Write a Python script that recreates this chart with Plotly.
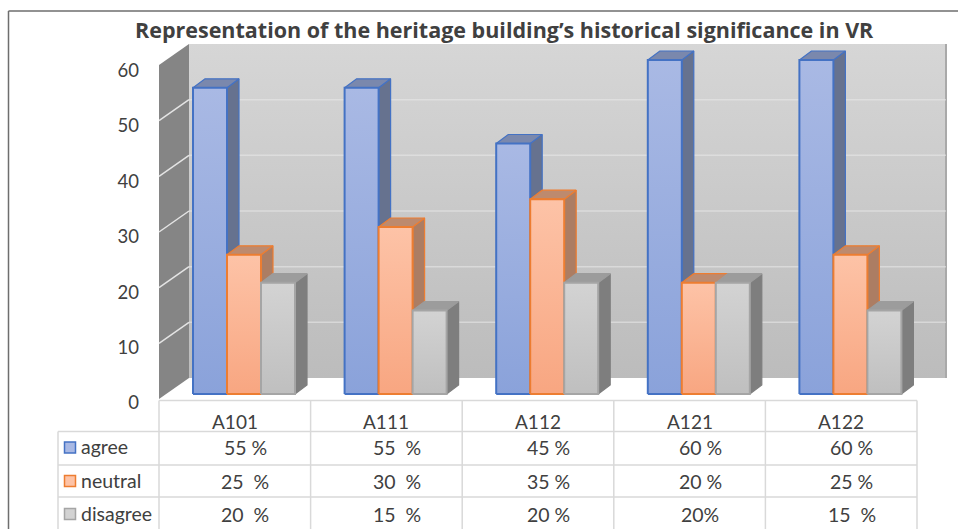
import plotly.graph_objects as go

# ---- data ----
categories = ["A101", "A111", "A112", "A121", "A122"]
series_names = ["agree", "neutral", "disagree"]
agree = [55, 55, 45, 60, 60]
neutral = [25, 30, 35, 20, 25]
disagree = [20, 15, 20, 20, 15]
agree_labels = ["55 %", "55\u00a0\u00a0%", "45 %", "60 %", "60 %"]
neutral_labels = ["25\u00a0\u00a0%", "30\u00a0\u00a0%", "35 %", "20 %", "25 %"]
disagree_labels = ["20\u00a0\u00a0%", "15\u00a0\u00a0%", "20 %", "20%", "15\u00a0\u00a0%"]
y_ticks = [0, 10, 20, 30, 40, 50, 60]
title = "Representation of the heritage building\u2019s historical significance in VR"

# ---- layout constants ----
W, H = 958, 529
CELL = 151.6          # px per category
X0 = 159              # px of first category edge
UNIT = 5.567          # px per value unit
BAR_BASE = 394        # px of value 0 for bar fronts
TICK_BASE = 399       # px of value 0 on the front of the side wall
BACK_BASE = 378       # px of value 0 on the back wall
RIGHT_WALL = 946
FONT = "Lato"
TXT = "#404040"
BAR_W = 34 / CELL
GROUP_OFF = 34 / CELL
DX = 12 / CELL        # bar depth
DY = 9 / UNIT
WALL_DX = 30 / CELL

styles = {
    "agree": dict(top="#a9b9e4", bot="#8aa2da", line="#4472c4", side="#66728f", cap="#7a88ad"),
    "neutral": dict(top="#fdc3a7", bot="#f8a681", line="#ed7d31", side="#ac7d63", cap="#bd8a6e"),
    "disagree": dict(top="#d3d3d3", bot="#bfbfbf", line="#a5a5a5", side="#7e7e7e", cap="#9c9c9c"),
}

xr = [(0 - X0) / CELL, (W - X0) / CELL]
yr = [(BAR_BASE - H) / UNIT, BAR_BASE / UNIT]


def vx(p):
    return (p - X0) / CELL


def vy(p):
    return (BAR_BASE - p) / UNIT


def poly(xs, ys, fill=None, line=None, lw=0, grad=None):
    kw = dict(x=xs, y=ys, mode="lines", fill="toself", hoverinfo="skip", showlegend=False,
              line=dict(color=line or "rgba(0,0,0,0)", width=lw))
    if grad:
        kw["fillgradient"] = dict(type="vertical", colorscale=[[0, grad[0]], [1, grad[1]]])
    else:
        kw["fillcolor"] = fill
    return go.Scatter(**kw)


fig = go.Figure()

# back wall, with gradient
bl, br = vx(X0 + WALL_DX * CELL), vx(RIGHT_WALL)
back0 = vy(BACK_BASE)
back_top = back0 + 60
fig.add_trace(poly([bl, br, br, bl, bl], [back0, back0, back_top, back_top, back0],
                   grad=("#bcbcbc", "#d6d6d6")))
fig.add_trace(go.Scatter(x=[br, br], y=[back0, back_top], mode="lines", hoverinfo="skip", showlegend=False,
                         line=dict(color="#a9a9a9", width=2)))
# side wall
front0 = vy(TICK_BASE)
fig.add_trace(poly([0, bl, bl, 0, 0], [front0, back0, back_top, front0 + 60, front0], fill="#858585"))
# grid lines on back and side wall
for t in y_ticks[1:-1]:
    fig.add_trace(go.Scatter(x=[bl, br], y=[back0 + t, back0 + t], mode="lines",
                             hoverinfo="skip", showlegend=False,
                             line=dict(color="rgba(232,232,232,0.6)", width=1.5)))
    fig.add_trace(go.Scatter(x=[0, bl], y=[front0 + t, back0 + t], mode="lines",
                             hoverinfo="skip", showlegend=False, line=dict(color="#e4e4e4", width=1.5)))

# bars, painted back to front
all_vals = [agree, neutral, disagree]
for i, _ in enumerate(categories):
    for s, name in enumerate(series_names):
        v = all_vals[s][i]
        st = styles[name]
        l = i + GROUP_OFF + s * BAR_W
        r = l + BAR_W
        # side face
        fig.add_trace(poly([r, r + DX, r + DX, r, r], [0, DY, v + DY, v, 0], fill=st["side"],
                           line=st["line"] if name != "disagree" else st["side"], lw=1.2))
        # top face
        fig.add_trace(poly([l, r, r + DX, l + DX, l], [v, v, v + DY, v + DY, v], fill=st["cap"],
                           line=st["line"] if name != "disagree" else st["cap"], lw=1.2))
        # front face
        fig.add_trace(poly([l, r, r, l, l], [0, 0, v, v, 0], grad=(st["bot"], st["top"]),
                           line=st["line"], lw=2))

# value axis labels are carried by an invisible trace on y2
fig.add_trace(go.Scatter(x=[0, 0], y=[y_ticks[0], y_ticks[-1]], yaxis="y2", mode="lines",
                         hoverinfo="skip", showlegend=False, line=dict(width=0)))

# legend keys of the data table
table_rows = [447.5, 481, 514]
for name, p in zip(series_names, table_rows):
    st = styles[name]
    fig.add_trace(go.Scatter(x=[vx(70)], y=[vy(p)], mode="markers", hoverinfo="skip", showlegend=False,
                             marker=dict(symbol="square", size=11, color=st["top"],
                                         line=dict(color=st["line"], width=1.5))))


def px(p):
    return p / W


def py(p):
    return 1 - p / H


shapes = []


def seg(x0, y0, x1, y1, color="#d9d9d9", width=1.5):
    shapes.append(dict(type="line", xref="paper", yref="paper", x0=px(x0), y0=py(y0), x1=px(x1), y1=py(y1),
                       line=dict(color=color, width=width)))


# outer frame
seg(8.5, 11, W, 11, "#6e6e6e", 1.5)
seg(8.5, 11, 8.5, H, "#6e6e6e", 1.5)
# table rules
seg(X0, 400.5, 917, 400.5)
for p in (431.5, 465, 497):
    seg(58, p, 917, p)
seg(58, 431.5, 58, H)
for i in range(len(categories) + 1):
    seg(X0 + i * CELL, 400.5, X0 + i * CELL, H)

annotations = [dict(text="<b>%s</b>" % title, xref="paper", yref="paper", x=px(504), y=py(30), showarrow=False,
                    font=dict(family="Open Sans", size=21.5, color=TXT), xanchor="center", yanchor="middle")]
for i, c in enumerate(categories):
    annotations.append(dict(text=c, x=i + 0.5, xref="x", y=py(421), yref="paper", showarrow=False,
                            font=dict(family=FONT, size=19, color=TXT), xanchor="center", yanchor="middle"))
for labels, p, name in zip([agree_labels, neutral_labels, disagree_labels], table_rows, series_names):
    annotations.append(dict(text=name, xref="paper", x=px(79), y=py(p - 1), yref="paper", showarrow=False,
                            font=dict(family=FONT, size=19.5, color=TXT), xanchor="left", yanchor="middle"))
    for i, t in enumerate(labels):
        annotations.append(dict(text=t, x=i + 0.57, xref="x", y=py(p), yref="paper", showarrow=False,
                                font=dict(family=FONT, size=19.5, color=TXT), xanchor="center", yanchor="middle"))

fig.update_layout(
    width=W, height=H, margin=dict(l=0, r=0, t=0, b=0),
    paper_bgcolor="white", plot_bgcolor="white", showlegend=False,
    font=dict(family=FONT, color=TXT),
    xaxis=dict(range=xr, visible=False, domain=[0, 1], fixedrange=True),
    yaxis=dict(range=yr, visible=False, domain=[0, 1], fixedrange=True),
    yaxis2=dict(range=[(403 - H) / 5.54, 403 / 5.54], overlaying="y", side="left", anchor="free",
                position=139 / W, tickvals=y_ticks, ticks="", showgrid=False, zeroline=False, showline=False,
                tickfont=dict(family=FONT, size=18.5, color=TXT), fixedrange=True),
    shapes=shapes, annotations=annotations,
)

fig.write_html("out.html", config={"displayModeBar": False},
               post_script="document.body.style.margin='0';window.dispatchEvent(new Event('resize'));")
